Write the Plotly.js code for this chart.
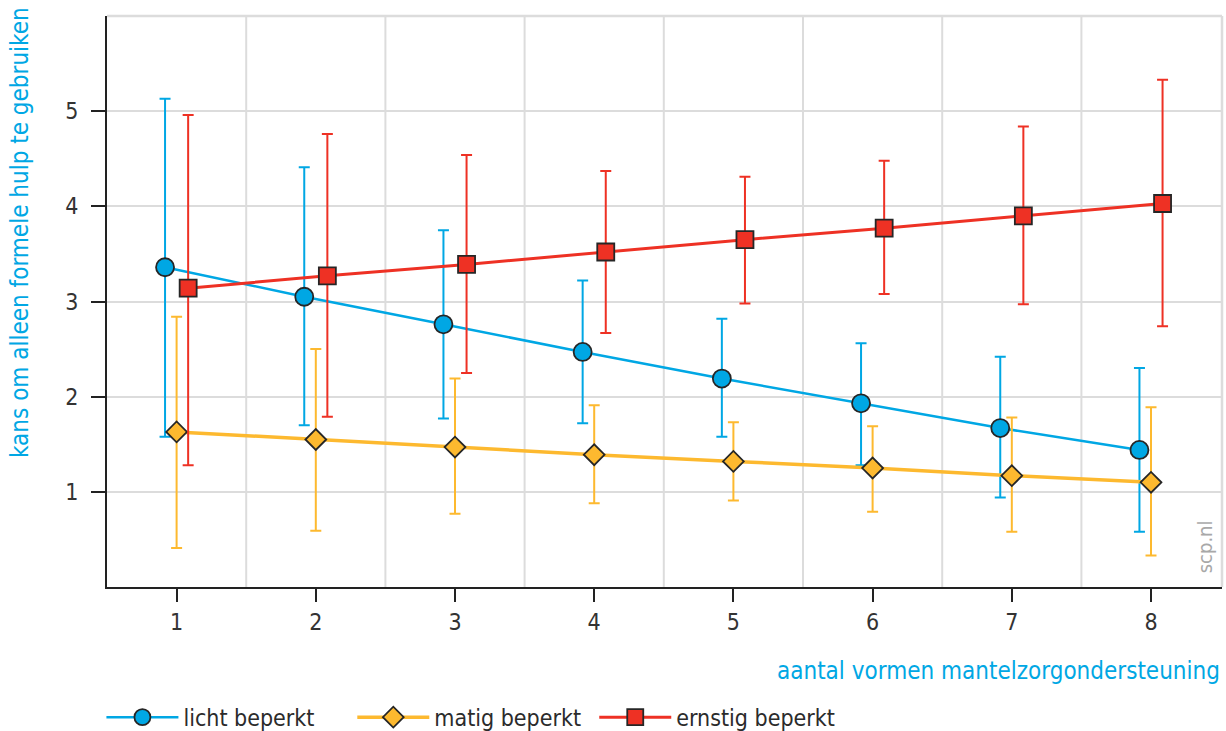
<!DOCTYPE html>
<html>
<head>
<meta charset="utf-8">
<script src="https://cdn.plot.ly/plotly-3.0.1.min.js"></script>
<style>html,body{margin:0;padding:0;background:#fff;}#chart{width:1226px;height:731px;}</style>
</head>
<body>
<div id="chart"></div>
<script>
// ---- data ----
const categories = [1, 2, 3, 4, 5, 6, 7, 8];
const seriesNames = ["licht beperkt", "matig beperkt", "ernstig beperkt"];

const lichtValues = [3.36, 3.05, 2.76, 2.47, 2.19, 1.93, 1.67, 1.44];
const lichtUpper  = [5.13, 4.41, 3.75, 3.22, 2.82, 2.56, 2.42, 2.30];
const lichtLower  = [1.58, 1.70, 1.77, 1.72, 1.58, 1.28, 0.94, 0.58];

const matigValues = [1.63, 1.55, 1.47, 1.39, 1.32, 1.25, 1.17, 1.10];
const matigUpper  = [2.84, 2.50, 2.19, 1.91, 1.73, 1.69, 1.78, 1.89];
const matigLower  = [0.41, 0.59, 0.77, 0.88, 0.91, 0.79, 0.58, 0.33];

const ernstigValues = [3.14, 3.27, 3.39, 3.52, 3.65, 3.77, 3.90, 4.03];
const ernstigUpper  = [4.96, 4.76, 4.54, 4.37, 4.31, 4.48, 4.84, 5.33];
const ernstigLower  = [1.28, 1.79, 2.25, 2.67, 2.98, 3.08, 2.97, 2.74];

const yTickVals = [1, 2, 3, 4, 5];
const xTitle = "aantal vormen mantelzorgondersteuning";
const yTitle = "kans om alleen formele hulp te gebruiken";
const watermark = "scp.nl";

// ---- style ----
const FONT = '"DejaVu Sans Condensed", "Liberation Sans Narrow", "Liberation Sans", sans-serif';
const BLUE = "#00a7e4", ORANGE = "#fdb92f", RED = "#ee3124";
const OUTLINE = "#262626";
const OFFSET = 0.083;

function mk(name, vals, up, lo, shift, color, symbol, size, lw, legendId) {
  return {
    type: "scatter", mode: "lines+markers", name: name, legend: legendId,
    x: categories.map(c => c + shift), y: vals,
    line: {color: color, width: lw},
    marker: {symbol: symbol, size: size, color: color, line: {color: OUTLINE, width: 1.8}},
    error_y: {
      type: "data", symmetric: false,
      array: up.map((u, i) => u - vals[i]),
      arrayminus: lo.map((l, i) => vals[i] - l),
      color: color, thickness: 2, width: 5.5
    },
    cliponaxis: false
  };
}

const traces = [
  mk(seriesNames[0], lichtValues, lichtUpper, lichtLower, -OFFSET, BLUE, "circle", 18, 2.5, "legend"),
  mk(seriesNames[1], matigValues, matigUpper, matigLower, 0, ORANGE, "diamond", 16, 3.5, "legend2"),
  mk(seriesNames[2], ernstigValues, ernstigUpper, ernstigLower, OFFSET, RED, "square", 17, 3, "legend3")
];

const shapes = [];
for (let i = 0; i < categories.length - 1; i++) {
  const xm = (categories[i] + categories[i + 1]) / 2;
  shapes.push({type: "line", xref: "x", yref: "paper", x0: xm, x1: xm, y0: 0, y1: 1,
    line: {color: "#dcdcdc", width: 2}, layer: "below"});
}
shapes.push({type: "line", xref: "paper", yref: "paper", x0: 0, x1: 1, y0: 1, y1: 1,
  line: {color: "#dcdcdc", width: 2.5}, layer: "below"});
shapes.push({type: "line", xref: "paper", yref: "paper", x0: 1, x1: 1, y0: 0, y1: 1,
  line: {color: "#dcdcdc", width: 2.5}, layer: "below"});

function legendAt(x) {
  return {
    orientation: "h", x: x, xanchor: "left", y: -0.228, yanchor: "middle",
    font: {family: FONT, size: 23, color: "#2b2b2b"},
    itemwidth: 72, bgcolor: "rgba(0,0,0,0)"
  };
}

const layout = {
  width: 1226, height: 731,
  margin: {l: 107, r: 4, t: 16, b: 144, autoexpand: false},
  paper_bgcolor: "#fff", plot_bgcolor: "#fff",
  font: {family: FONT, color: "#2b2b2b", size: 23},
  showlegend: true,
  legend: legendAt(-0.005),
  legend2: legendAt(0.220),
  legend3: legendAt(0.437),
  xaxis: {
    range: [0.5, 8.51], tickvals: categories, ticktext: categories.map(String),
    showgrid: false, zeroline: false,
    showline: true, linecolor: "#222", linewidth: 2,
    ticks: "outside", ticklen: 13, tickwidth: 2, tickcolor: "#222",
    tickfont: {family: FONT, size: 23, color: "#333"}
  },
  yaxis: {
    range: [0, 6], tickvals: yTickVals, ticktext: yTickVals.map(String),
    showgrid: true, gridcolor: "#dcdcdc", gridwidth: 2, zeroline: false,
    showline: true, linecolor: "#222", linewidth: 2,
    ticks: "outside", ticklen: 14, tickwidth: 2, tickcolor: "#222",
    ticklabelstandoff: 8,
    tickfont: {family: FONT, size: 23, color: "#333"}
  },
  shapes: shapes,
  annotations: [
    {text: yTitle, xref: "paper", yref: "paper", x: -87 / 1115, y: 0.62,
     xanchor: "center", yanchor: "middle", textangle: -90, showarrow: false,
     font: {family: FONT, size: 24, color: BLUE}},
    {text: xTitle, xref: "paper", yref: "paper", x: 1, y: -0.147,
     xanchor: "right", yanchor: "middle", showarrow: false,
     font: {family: FONT, size: 24, color: BLUE}},
    {text: watermark, xref: "paper", yref: "paper", x: 0.985, y: 0.07,
     xanchor: "center", yanchor: "middle", textangle: -90, showarrow: false,
     font: {family: FONT, size: 20, color: "#a8a8a8"}}
  ]
};

Plotly.newPlot("chart", traces, layout, {displayModeBar: false, staticPlot: true});
</script>
</body>
</html>
